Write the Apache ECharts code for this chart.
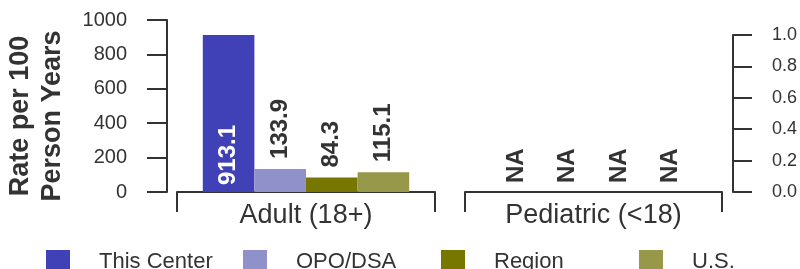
<!DOCTYPE html>
<html>
<head>
<meta charset="utf-8">
<script src="https://cdn.jsdelivr.net/npm/echarts@6/dist/echarts.min.js"></script>
<style>
html,body{margin:0;padding:0;background:#fff;}
#chart{width:800px;height:269px;}
</style>
</head>
<body>
<div id="chart"></div>
<script>
const categories = ['Adult (18+)', 'Pediatric (<18)'];
const seriesNames = ['This Center', 'OPO/DSA', 'Region', 'U.S.'];
const adultValues = [913.1, 133.9, 84.3, 115.1];
const pediatricValues = [null, null, null, null]; // shown as NA
const leftAxis = { min: 0, max: 1000, interval: 200 };
const rightAxis = { min: 0, max: 1, interval: 0.2 };
const yTitle = ['Rate per 100', 'Person Years'];

const colors = ['#4141B7', '#9090CB', '#777700', '#98984B'];
const FONT = '"Liberation Sans", Arial, Helvetica, sans-serif';
const AX = '#333333';

const chart = echarts.init(document.getElementById('chart'), null, { renderer: 'canvas' });

function xAxisCfg(gi, cat) {
  return {
    gridIndex: gi, type: 'category', data: [cat], boundaryGap: true,
    axisLine: { show: true, lineStyle: { color: AX, width: 2 } },
    axisTick: { show: true, length: 20, lineStyle: { color: AX, width: 2 } },
    axisLabel: { fontSize: 27, color: AX, fontFamily: FONT, margin: 10 },
    splitLine: { show: false }
  };
}

const series = [];
seriesNames.forEach((name, i) => {
  const inside = i === 0;
  series.push({
    name, type: 'bar', xAxisIndex: 0, yAxisIndex: 0,
    data: [adultValues[i]],
    itemStyle: { color: colors[i] },
    barGap: '0%', barCategoryGap: '20%',
    label: {
      show: true, rotate: 90, align: 'left', verticalAlign: 'middle',
      position: inside ? 'insideBottom' : 'top', distance: inside ? 7 : 10,
      color: inside ? '#ffffff' : AX, fontSize: 24, fontWeight: 'bold', fontFamily: FONT,
      formatter: p => p.value.toFixed(1)
    }
  });
});
seriesNames.forEach((name, i) => {
  series.push({
    name, type: 'bar', xAxisIndex: 1, yAxisIndex: 1,
    data: [{ value: pediatricValues[i] === null ? 0 : pediatricValues[i], na: pediatricValues[i] === null }],
    itemStyle: { color: colors[i] },
    barGap: '0%', barCategoryGap: '20%',
    label: {
      show: true, rotate: 90, align: 'left', verticalAlign: 'middle',
      position: 'top', distance: 9,
      color: AX, fontSize: 24, fontWeight: 'bold', fontFamily: FONT,
      formatter: p => (p.data.na ? 'NA' : p.value.toFixed(1))
    }
  });
});

const legendLefts = [46, 243, 441, 639];
const legends = seriesNames.map((name, i) => ({
  data: [name], left: legendLefts[i], top: 250, padding: 0,
  itemWidth: 24, itemHeight: 24, icon: 'rect',
  textStyle: { fontSize: 22, color: AX, fontFamily: FONT, padding: [0, 0, 0, 24] }
}));

const option = {
  animation: false,
  backgroundColor: '#ffffff',
  color: colors,
  grid: [
    { left: 177, top: 20, width: 258, height: 172 },
    { left: 465, top: 35, width: 258, height: 157 }
  ],
  xAxis: [xAxisCfg(0, categories[0]), xAxisCfg(1, categories[1])],
  yAxis: [
    {
      gridIndex: 0, type: 'value', position: 'left', offset: 10,
      min: leftAxis.min, max: leftAxis.max, interval: leftAxis.interval,
      axisLine: { show: true, lineStyle: { color: AX, width: 2 } },
      axisTick: { show: true, length: 20, lineStyle: { color: AX, width: 2 } },
      axisLabel: { fontSize: 20, color: AX, fontFamily: FONT, margin: 40, formatter: v => String(v) },
      splitLine: { show: false }
    },
    {
      gridIndex: 1, type: 'value', position: 'right', offset: 11,
      min: rightAxis.min, max: rightAxis.max, interval: rightAxis.interval,
      axisLine: { show: true, lineStyle: { color: AX, width: 2 } },
      axisTick: { show: true, length: 19, lineStyle: { color: AX, width: 2 } },
      axisLabel: { fontSize: 18, color: AX, fontFamily: FONT, margin: 39, formatter: v => v.toFixed(1) },
      splitLine: { show: false }
    }
  ],
  legend: legends,
  graphic: [{
    type: 'text', x: 37, y: 116, rotation: Math.PI / 2,
    style: {
      text: yTitle.join('\n'), fontSize: 27, fontWeight: 'bold', fontFamily: FONT,
      fill: AX, align: 'center', verticalAlign: 'middle', lineHeight: 32
    }
  }],
  series
};
chart.setOption(option);
</script>
</body>
</html>
